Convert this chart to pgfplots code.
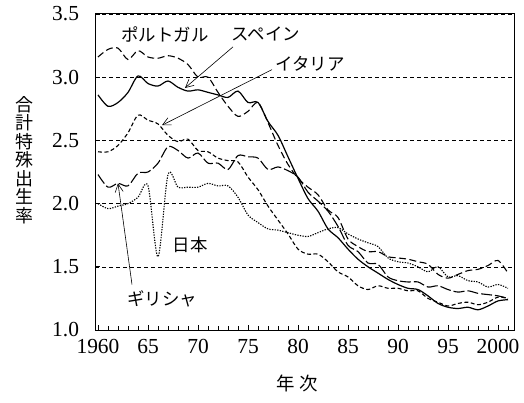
\documentclass[border=0pt]{standalone}
\usepackage{pgfplots}
\pgfplotsset{compat=1.18}
\usepackage{pgfplotstable}
\usepackage{fontspec}
\setmainfont{Liberation Serif}
\newfontfamily\cjk{Noto Sans CJK JP}
\usetikzlibrary{arrows.meta}

\pgfplotstableread{
year val
1960 2.86
1961 2.77
1962 2.80
1963 2.88
1964 3.01
1965 2.95
1966 2.93
1967 2.97
1968 2.92
1969 2.89
1970 2.90
1971 2.88
1972 2.86
1973 2.84
1974 2.89
1975 2.80
1976 2.80
1977 2.65
1978 2.54
1979 2.37
1980 2.20
1981 2.04
1982 1.94
1983 1.80
1984 1.73
1985 1.64
1986 1.56
1987 1.50
1988 1.45
1989 1.40
1990 1.36
1991 1.33
1992 1.32
1993 1.27
1994 1.21
1995 1.18
1996 1.17
1997 1.18
1998 1.16
1999 1.19
2000 1.23
2001 1.24
}\spain

\pgfplotstableread{
year val
1960 3.16
1961 3.22
1962 3.23
1963 3.14
1964 3.21
1965 3.16
1966 3.15
1967 3.17
1968 3.15
1969 3.10
1970 3.00
1971 3.00
1972 2.88
1973 2.77
1974 2.69
1975 2.73
1976 2.80
1977 2.64
1978 2.46
1979 2.31
1980 2.20
1981 2.13
1982 2.07
1983 1.95
1984 1.89
1985 1.72
1986 1.66
1987 1.62
1988 1.62
1989 1.58
1990 1.57
1991 1.56
1992 1.54
1993 1.52
1994 1.44
1995 1.41
1996 1.44
1997 1.47
1998 1.48
1999 1.51
2000 1.55
2001 1.45
}\portugal

\pgfplotstableread{
year val
1960 2.41
1961 2.41
1962 2.46
1963 2.56
1964 2.70
1965 2.66
1966 2.63
1967 2.54
1968 2.49
1969 2.51
1970 2.42
1971 2.41
1972 2.36
1973 2.34
1974 2.33
1975 2.21
1976 2.11
1977 1.98
1978 1.87
1979 1.76
1980 1.64
1981 1.60
1982 1.60
1983 1.54
1984 1.46
1985 1.42
1986 1.35
1987 1.32
1988 1.35
1989 1.33
1990 1.33
1991 1.31
1992 1.31
1993 1.25
1994 1.22
1995 1.19
1996 1.21
1997 1.22
1998 1.20
1999 1.22
2000 1.26
2001 1.25
}\italy

\pgfplotstableread{
year val
1960 2.00
1961 1.96
1962 1.98
1963 2.00
1964 2.05
1965 2.14
1966 1.58
1967 2.23
1968 2.13
1969 2.13
1970 2.13
1971 2.16
1972 2.14
1973 2.14
1974 2.05
1975 1.91
1976 1.85
1977 1.80
1978 1.79
1979 1.77
1980 1.75
1981 1.74
1982 1.77
1983 1.80
1984 1.81
1985 1.76
1986 1.72
1987 1.69
1988 1.66
1989 1.57
1990 1.54
1991 1.53
1992 1.50
1993 1.46
1994 1.50
1995 1.42
1996 1.43
1997 1.39
1998 1.38
1999 1.34
2000 1.36
2001 1.33
}\japan

\pgfplotstableread{
year val
1960 2.23
1961 2.13
1962 2.16
1963 2.14
1964 2.24
1965 2.25
1966 2.32
1967 2.45
1968 2.42
1969 2.36
1970 2.40
1971 2.32
1972 2.32
1973 2.27
1974 2.38
1975 2.37
1976 2.36
1977 2.27
1978 2.29
1979 2.26
1980 2.21
1981 2.09
1982 2.02
1983 1.94
1984 1.82
1985 1.67
1986 1.62
1987 1.53
1988 1.52
1989 1.42
1990 1.39
1991 1.38
1992 1.38
1993 1.34
1994 1.35
1995 1.32
1996 1.30
1997 1.31
1998 1.29
1999 1.28
2000 1.27
2001 1.25
}\greece

\begin{document}
\begin{tikzpicture}
\path[use as bounding box] (-95bp,-73bp) rectangle (429bp,330bp);
\begin{axis}[
  at={(0,0)}, anchor=south west,
  scale only axis, width=419bp, height=316bp,
  xmin=1959.7, xmax=2001.6, ymin=1, ymax=3.5,
  xtick={1960,1965,...,2000},
  xticklabels={1960,65,70,75,80,85,90,95,2000},
  minor xtick={1960,...,2001},
  ytick={1,1.5,2,2.5,3,3.5},
  yticklabels={1.0,1.5,2.0,2.5,3.0,3.5},
  xtick pos=bottom, ytick pos=left,
  tick align=inside,
  major tick length=5bp, minor tick length=4bp,
  tick style={black, line width=0.7bp},
  axis line style={line width=1bp},
  ymajorgrids,
  grid style={black, line width=0.6bp, dash pattern=on 4bp off 3bp},
  tick label style={font=\fontsize{21.5}{21.5}\selectfont},
  xticklabel style={yshift=-6bp},
  yticklabel style={xshift=-12.5bp},
  clip=false,
]
\addplot[black, line width=1.2bp, smooth] table[x=year,y=val] {\spain};
\addplot[black, line width=1.1bp, smooth, dash pattern=on 7bp off 3.5bp] table[x=year,y=val] {\portugal};
\addplot[black, line width=1.1bp, smooth, dash pattern=on 4bp off 2.5bp] table[x=year,y=val] {\italy};
\addplot[black, line width=1.1bp, smooth, dash pattern=on 1.3bp off 1.3bp] table[x=year,y=val] {\japan};
\addplot[black, line width=1.1bp, smooth, dash pattern=on 11bp off 3bp] table[x=year,y=val] {\greece};

\node[font=\cjk\fontsize{17.5}{17.5}\selectfont] at (axis cs:1966.7,3.34) {ポルトガル};
\node[font=\cjk\fontsize{17.5}{17.5}\selectfont] at (axis cs:1976.8,3.34) {スペイン};
\node[font=\cjk\fontsize{17.5}{17.5}\selectfont] at (axis cs:1981.2,3.11) {イタリア};
\node[font=\cjk\fontsize{17.5}{17.5}\selectfont] at (axis cs:1969.2,1.67) {日本};
\node[font=\cjk\fontsize{17.5}{17.5}\selectfont] at (axis cs:1966.4,1.25) {ギリシャ};

\draw[line width=0.6bp, -{Straight Barb[length=8bp,width=8bp]}] (axis cs:1973.5,3.24) -- (axis cs:1968.7,2.915);
\draw[line width=0.6bp, -{Straight Barb[length=8bp,width=8bp]}] (axis cs:1977.4,3.06) -- (axis cs:1966.4,2.62);
\draw[line width=0.6bp, -{Straight Barb[length=8bp,width=8bp]}] (axis cs:1963.4,1.36) -- (axis cs:1962.0,2.16);
\end{axis}
\node[font=\cjk\fontsize{18}{18.6}\selectfont, align=center] at (-71bp,170bp) {合\\計\\特\\殊\\出\\生\\率};
\node[font=\cjk\fontsize{18.5}{18.5}\selectfont] at (202bp,-53bp) {年\hspace{5bp}次};
\end{tikzpicture}
\end{document}
